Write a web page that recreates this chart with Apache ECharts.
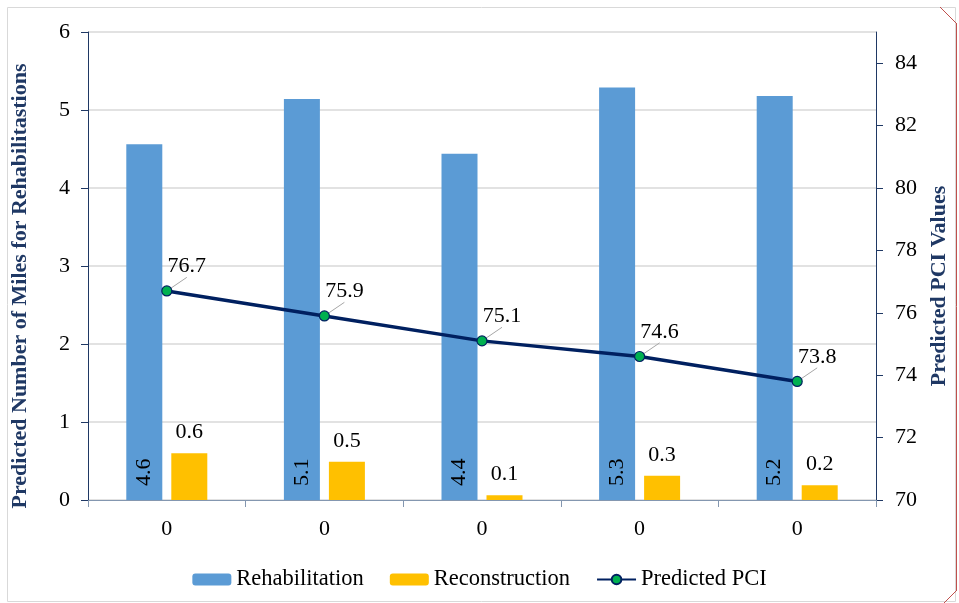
<!DOCTYPE html>
<html>
<head>
<meta charset="utf-8">
<script src="https://cdn.jsdelivr.net/npm/echarts@6/dist/echarts.min.js"></script>
<style>
  html, body { margin: 0; padding: 0; background: #fff; }
  #chart { width: 959px; height: 603px; }
</style>
</head>
<body>
<div id="chart"></div>
<script>
// 数据
const categories = ['0', '0', '0', '0', '0'];
const rehabilitation = [4.56, 5.14, 4.44, 5.29, 5.18];
const reconstruction = [0.6, 0.49, 0.06, 0.31, 0.19];
const predictedPCI = [76.7, 75.9, 75.1, 74.6, 73.8];
const leftTicks = [0, 1, 2, 3, 4, 5, 6];
const rightTicks = [70, 72, 74, 76, 78, 80, 82, 84];

const FONT = 'Liberation Serif';
const NAVY = '#1f3864';

const chart = echarts.init(document.getElementById('chart'));

chart.setOption({
    animation: false,
    textStyle: { fontFamily: FONT },
    grid: { left: 88, right: 83, top: 32, bottom: 103 },
    legend: {
        bottom: 7,
        left: 'center',
        itemWidth: 39,
        itemHeight: 12,
        itemGap: 26,
        textStyle: { fontFamily: FONT, fontSize: 22.5, color: '#000' },
        data: ['Rehabilitation', 'Reconstruction', 'Predicted PCI']
    },
    xAxis: {
        type: 'category',
        data: categories,
        axisLine: { lineStyle: { color: '#8497b0', width: 1 } },
        axisTick: { show: true, length: 7, lineStyle: { color: '#8497b0' } },
        axisLabel: { fontFamily: FONT, fontSize: 22, color: '#000', margin: 18 }
    },
    yAxis: [{
        type: 'value',
        min: 0,
        max: 6,
        interval: 1,
        name: 'Predicted Number of Miles for Rehabilitastions',
        nameLocation: 'middle',
        nameRotate: 90,
        nameGap: 57,
        nameTextStyle: { fontFamily: FONT, fontSize: 22, fontWeight: 'bold', color: NAVY, padding: [0, 0, 0, -40] },
        axisLine: { show: true, lineStyle: { color: NAVY, width: 1 } },
        axisTick: { show: true, length: 7, lineStyle: { color: NAVY } },
        axisLabel: { fontFamily: FONT, fontSize: 22, color: '#000', margin: 18,
            customValues: leftTicks },
        splitLine: { lineStyle: { color: '#d9d9d9', width: 1.5 } }
    }, {
        type: 'value',
        min: 70,
        max: 85,
        interval: 2,
        name: 'Predicted PCI Values',
        nameLocation: 'middle',
        nameRotate: 90,
        nameGap: 47,
        nameTextStyle: { fontFamily: FONT, fontSize: 22, fontWeight: 'bold', color: NAVY, padding: [0, 0, 0, -40] },
        axisLine: { show: true, lineStyle: { color: NAVY, width: 1 } },
        axisTick: { show: true, length: 7, lineStyle: { color: NAVY }, customValues: rightTicks },
        axisLabel: { fontFamily: FONT, fontSize: 22, color: '#000', margin: 19, customValues: rightTicks },
        splitLine: { show: false }
    }],
    series: [{
        name: 'Rehabilitation',
        type: 'bar',
        data: rehabilitation,
        barWidth: 36,
        barGap: '25%',
        itemStyle: { color: '#5b9bd5' },
        label: {
            show: true,
            position: 'insideBottom',
            rotate: 90,
            align: 'left',
            verticalAlign: 'middle',
            distance: 14,
            fontFamily: FONT,
            fontSize: 22,
            color: '#000',
            formatter: p => p.value.toFixed(1)
        }
    }, {
        name: 'Reconstruction',
        type: 'bar',
        data: reconstruction,
        barWidth: 36,
        itemStyle: { color: '#ffc000' },
        label: {
            show: true,
            position: 'top',
            distance: 10,
            fontFamily: FONT,
            fontSize: 22,
            color: '#000',
            formatter: p => p.value.toFixed(1)
        }
    }, {
        name: 'Predicted PCI',
        type: 'line',
        yAxisIndex: 1,
        data: predictedPCI,
        symbol: 'circle',
        symbolSize: 10,
        lineStyle: { color: '#002060', width: 3.5 },
        itemStyle: { color: '#00b050', borderColor: '#002060', borderWidth: 1.2 },
        label: {
            show: true,
            position: 'top',
            fontFamily: FONT,
            fontSize: 22,
            color: '#000',
            formatter: p => p.value.toFixed(1)
        },
        labelLayout: { dx: 20, dy: -3 },
        labelLine: { show: true, lineStyle: { color: '#a6a6a6', width: 1 } }
    }],
    graphic: [{
        type: 'rect',
        shape: { x: 7.5, y: 7.5, width: 948, height: 594 },
        style: { fill: 'none', stroke: '#d9d9d9', lineWidth: 1 },
        silent: true
    }, {
        type: 'line',
        shape: { x1: 956.5, y1: 23, x2: 956.5, y2: 590 },
        style: { stroke: '#c0504d', lineWidth: 1 },
        silent: true
    }, {
        type: 'line',
        shape: { x1: 940, y1: 7, x2: 957, y2: 24 },
        style: { stroke: '#c0504d', lineWidth: 1 },
        silent: true
    }, {
        type: 'line',
        shape: { x1: 957, y1: 590, x2: 944, y2: 603 },
        style: { stroke: '#c0504d', lineWidth: 1 },
        silent: true
    }]
});

window.addEventListener('resize', () => chart.resize());
</script>
</body>
</html>
